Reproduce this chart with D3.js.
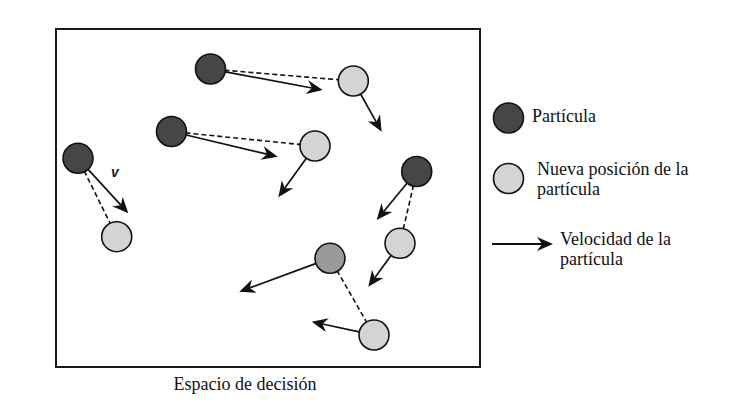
<!DOCTYPE html>
<html>
<head>
<meta charset="utf-8">
<script src="https://cdn.jsdelivr.net/npm/d3@7"></script>
<style>
  body { margin: 0; background: #fff; }
  svg { display: block; }
</style>
</head>
<body>
<div id="chart"></div>
<script>
// positions inside the decision space (box units, origin at box top-left)
var particles = [[154.5, 40], [115.5, 102.5], [22, 129.3], [360.7, 142.5], [274, 229.3]];
var particleKind = ["old", "old", "old", "old", "mid"];
var newPositions = [[297.3, 52], [259, 117], [60.7, 207.7], [344, 214.3], [318, 306]];
// tips of the velocity arrows drawn from each particle
var oldVelTips = [[266.7, 61], [221.7, 127.7], [72.3, 184.3], [320.7, 191], [183.3, 262.7]];
// tips of the arrows drawn from the new positions (null = none)
var newVelTips = [[325.7, 102.7], [222.3, 168.3], null, [312.3, 257.7], [255.7, 292.7]];

var legendLabels = [["Partícula"], ["Nueva posición de la", "partícula"], ["Velocidad de la", "partícula"]];
var spaceLabel = "Espacio de decisión";

var W = 755, H = 411;
var box = {x: 56, y: 29, w: 424, h: 338};
var R = 15;
var fills = {old: "#464646", mid: "#9a9a9a", neu: "#d4d4d4"};
var serif = "'Liberation Serif', 'Times New Roman', serif";

var svg = d3.select("#chart").append("svg").attr("width", W).attr("height", H);

var x = d3.scaleLinear().domain([0, box.w]).range([box.x, box.x + box.w]);
var y = d3.scaleLinear().domain([0, box.h]).range([box.y, box.y + box.h]);

svg.append("rect")
  .attr("x", box.x).attr("y", box.y)
  .attr("width", box.w).attr("height", box.h)
  .attr("fill", "none").attr("stroke", "#1a1a1a").attr("stroke-width", 2);

function px(p) { return [x(p[0]), y(p[1])]; }

// point on circle edge toward another point
function edge(c, t, r) {
  var dx = t[0] - c[0], dy = t[1] - c[1], l = Math.hypot(dx, dy);
  return [c[0] + dx / l * r, c[1] + dy / l * r];
}

var headPath = "M0,0 L-16,-7 L-11,0 L-16,7 Z";

function arrow(g, a, b, sw) {
  var dx = b[0] - a[0], dy = b[1] - a[1], l = Math.hypot(dx, dy);
  var ang = Math.atan2(dy, dx) * 180 / Math.PI;
  g.append("line")
    .attr("x1", a[0]).attr("y1", a[1])
    .attr("x2", b[0] - dx / l * 11).attr("y2", b[1] - dy / l * 11)
    .attr("stroke", "#111").attr("stroke-width", sw || 1.7);
  g.append("path")
    .attr("d", headPath)
    .attr("transform", "translate(" + b[0] + "," + b[1] + ") rotate(" + ang + ")")
    .attr("fill", "#111");
}

var links = svg.append("g");
var arrows = svg.append("g");
var dots = svg.append("g");

// dashed lines: particle -> new position
particles.forEach(function(p, i) {
  var a = px(p), b = px(newPositions[i]);
  var s = edge(a, b, R - 1), e = edge(b, a, R - 1);
  links.append("line")
    .attr("x1", s[0]).attr("y1", s[1]).attr("x2", e[0]).attr("y2", e[1])
    .attr("stroke", "#111").attr("stroke-width", 1.6)
    .attr("stroke-dasharray", "5,3");
});

// velocity arrows
particles.forEach(function(p, i) {
  var a = px(p), t = px(oldVelTips[i]);
  arrow(arrows, edge(a, t, R - 1), t);
});
newPositions.forEach(function(p, i) {
  if (!newVelTips[i]) return;
  var a = px(p), t = px(newVelTips[i]);
  arrow(arrows, edge(a, t, R - 1), t);
});

dots.selectAll("circle.old")
  .data(particles)
  .enter().append("circle")
  .attr("cx", function(d) { return x(d[0]); })
  .attr("cy", function(d) { return y(d[1]); })
  .attr("r", R)
  .attr("fill", function(d, i) { return fills[particleKind[i]]; })
  .attr("stroke", "#111").attr("stroke-width", 1.6);

dots.selectAll("circle.neu")
  .data(newPositions)
  .enter().append("circle")
  .attr("cx", function(d) { return x(d[0]); })
  .attr("cy", function(d) { return y(d[1]); })
  .attr("r", R)
  .attr("fill", fills.neu)
  .attr("stroke", "#111").attr("stroke-width", 1.6);

// "v" label
svg.append("text")
  .attr("x", 111).attr("y", 177)
  .attr("font-family", "'Liberation Sans', Arial, sans-serif")
  .attr("font-weight", "bold").attr("font-style", "italic")
  .attr("font-size", 14)
  .attr("fill", "#1a1a1a")
  .text("v");

svg.append("text")
  .attr("x", box.x + 189).attr("y", 390)
  .attr("text-anchor", "middle")
  .attr("font-family", serif).attr("font-size", 18).attr("fill", "#111")
  .text(spaceLabel);

// legend
var leg = svg.append("g");
leg.append("circle").attr("cx", 508.5).attr("cy", 118).attr("r", R)
  .attr("fill", fills.old).attr("stroke", "#111").attr("stroke-width", 1.6);
leg.append("circle").attr("cx", 508.5).attr("cy", 178.5).attr("r", R)
  .attr("fill", fills.neu).attr("stroke", "#111").attr("stroke-width", 1.6);
arrow(leg, [492, 244], [553, 244], 1.9);

var legPos = [[532, 122], [537, 175], [560, 245]];
legendLabels.forEach(function(lines, i) {
  var t = leg.append("text").attr("x", legPos[i][0]).attr("y", legPos[i][1])
    .attr("font-family", serif).attr("font-size", 18).attr("fill", "#111");
  lines.forEach(function(s, j) {
    t.append("tspan").attr("x", legPos[i][0]).attr("dy", j ? 20 : 0).text(s);
  });
});
</script>
</body>
</html>
